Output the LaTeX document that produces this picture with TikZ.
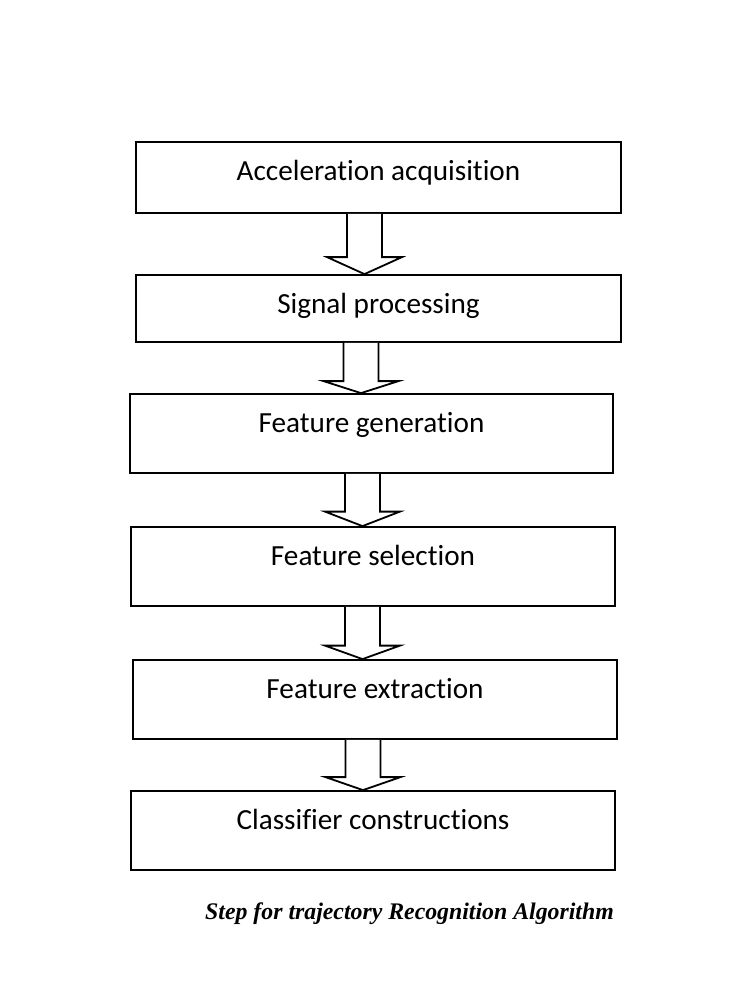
\documentclass[tikz,border=0pt]{standalone}
\usepackage{fontspec}
\setmainfont{Carlito}[Ligatures=NoCommon]
\newfontfamily\capfont{Liberation Serif}
\usetikzlibrary{calc}
\tikzset{
  stepbox/.style={draw=black, line width=1.8pt, rectangle, inner sep=0pt, fill=white},
  boxtext/.style={anchor=base, inner sep=0pt, font=\fontsize{29.2}{34}\selectfont},
  fatline/.style={draw=black, line width=1.8pt, line join=miter, fill=white},
  captext/.style={anchor=base, inner sep=0pt, font=\capfont\bfseries\itshape\fontsize{23.8}{28}\selectfont}
}
\newcommand\fatarrow[4]{%
  \draw[fatline] let \p1=(#1.south), \p2=(#2.north) in
   ({(#3-17.5)*1pt},\y1) -- ({(#3-17.5)*1pt},{\y2+#4*1pt}) -- ({(#3-37.5)*1pt},{\y2+#4*1pt})
   -- ({#3*1pt},\y2) -- ({(#3+37.5)*1pt},{\y2+#4*1pt}) -- ({(#3+17.5)*1pt},{\y2+#4*1pt})
   -- ({(#3+17.5)*1pt},\y1);}
\begin{document}
\begin{tikzpicture}[x=1pt,y=-1pt]
\fill[white] (0,0) rectangle (755,1006);
\useasboundingbox (0,0) rectangle (755,1006);
\node[stepbox, minimum width=485pt, minimum height=71pt] (b1) at (378.5,177.5) {};
\node[stepbox, minimum width=485pt, minimum height=67pt] (b2) at (378.5,308.5) {};
\node[stepbox, minimum width=483pt, minimum height=79pt] (b3) at (371.5,433.5) {};
\node[stepbox, minimum width=484pt, minimum height=79pt] (b4) at (373,566.5) {};
\node[stepbox, minimum width=484pt, minimum height=79pt] (b5) at (375,699.5) {};
\node[stepbox, minimum width=484pt, minimum height=79pt] (b6) at (373,830.5) {};
\node[boxtext] (t1) at ([yshift=-39.5pt]b1.north) {Acceleration acquisition};
\node[boxtext] (t2) at ([yshift=-39.5pt]b2.north) {Signal processing};
\node[boxtext] (t3) at ([yshift=-39.5pt]b3.north) {Feature generation};
\node[boxtext] (t4) at ([yshift=-39.5pt]b4.north) {Feature selection};
\node[boxtext] (t5) at ([yshift=-39.5pt]b5.north) {Feature extraction};
\node[boxtext] (t6) at ([yshift=-39.5pt]b6.north) {Classifier constructions};
\fatarrow{b1}{b2}{364.5}{17}
\fatarrow{b2}{b3}{361}{12}
\fatarrow{b3}{b4}{362.5}{14.5}
\fatarrow{b4}{b5}{362.5}{13.5}
\fatarrow{b5}{b6}{363}{13}
\node[captext] (cap) at (409.5,919) {Step for trajectory Recognition Algorithm};
\end{tikzpicture}
\end{document}
